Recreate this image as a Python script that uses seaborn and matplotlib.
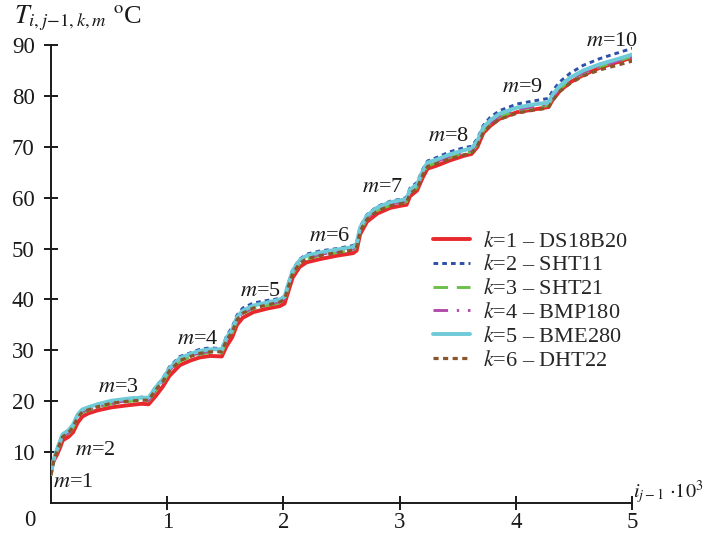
import numpy as np
import pandas as pd
import matplotlib
matplotlib.use("Agg")
import matplotlib.pyplot as plt
import seaborn as sns

# Sample index, in thousands of readings
idx_k = [0.00, 0.02, 0.05, 0.08, 0.10, 0.15, 0.19, 0.23, 0.27, 0.32,
         0.40, 0.52, 0.66, 0.78, 0.84, 0.90, 0.96, 1.02, 1.11, 1.20,
         1.28, 1.37, 1.47, 1.51, 1.56, 1.60, 1.65, 1.74, 1.86, 1.97,
         2.01, 2.04, 2.08, 2.14, 2.20, 2.31, 2.46, 2.60, 2.63, 2.66,
         2.72, 2.81, 2.92, 3.03, 3.06, 3.09, 3.15, 3.20, 3.24, 3.32,
         3.43, 3.55, 3.62, 3.67, 3.72, 3.78, 3.86, 4.01, 4.15, 4.28,
         4.32, 4.38, 4.47, 4.58, 4.72, 4.87, 5.01]

# Temperature readings (deg C) for each sensor
t_ds18b20 = [6.5, 8.2, 9.4, 11.0, 12.3, 13.0, 13.9, 15.8, 17.0, 17.6,
             18.2, 18.8, 19.2, 19.5, 19.4, 21.0, 22.8, 25.0, 27.1, 28.0,
             28.6, 28.9, 28.8, 30.8, 32.6, 35.0, 36.4, 37.5, 38.2, 38.7,
             39.2, 41.4, 44.3, 46.4, 47.3, 47.9, 48.6, 49.1, 49.6, 52.8,
             55.3, 56.9, 58.0, 58.5, 58.6, 60.3, 61.4, 64.0, 65.7, 66.3,
             67.3, 68.2, 68.6, 70.0, 72.7, 74.1, 75.5, 76.8, 77.3, 77.8,
             79.3, 81.0, 82.7, 84.1, 85.5, 86.6, 87.6]
t_sht11 = [5.8, 8.4, 10.5, 12.4, 13.5, 14.1, 15.4, 17.4, 18.3, 18.8,
           19.4, 20.0, 20.5, 20.8, 20.7, 22.8, 24.4, 26.8, 28.8, 29.5,
           30.2, 30.5, 30.3, 32.8, 34.6, 36.9, 38.3, 39.3, 39.8, 40.2,
           40.6, 43.0, 45.9, 47.9, 48.9, 49.5, 50.0, 50.6, 51.2, 54.3,
           56.7, 58.3, 59.3, 59.8, 60.1, 61.9, 63.0, 65.6, 67.2, 67.9,
           69.0, 69.8, 70.1, 71.6, 74.2, 75.8, 77.1, 78.4, 79.0, 79.5,
           81.1, 82.8, 84.5, 86.0, 87.3, 88.4, 89.4]
t_sht21 = [5.3, 7.7, 9.9, 11.7, 12.9, 13.6, 14.8, 16.7, 17.8, 18.2,
           18.8, 19.5, 19.9, 20.3, 20.1, 22.0, 23.6, 25.8, 27.9, 28.7,
           29.2, 29.6, 29.5, 31.8, 33.4, 35.8, 37.2, 38.2, 38.8, 39.3,
           39.9, 42.2, 45.0, 47.1, 47.9, 48.6, 49.2, 49.7, 50.3, 53.4,
           55.9, 57.5, 58.5, 59.0, 59.2, 60.9, 62.0, 64.6, 66.2, 66.9,
           67.9, 68.7, 69.0, 70.5, 73.1, 74.6, 75.9, 77.1, 77.7, 78.1,
           79.7, 81.4, 83.0, 84.4, 85.7, 86.8, 87.8]
t_bmp180 = [5.6, 8.0, 10.1, 11.9, 13.1, 13.8, 15.0, 17.0, 18.0, 18.4,
            19.0, 19.6, 20.1, 20.3, 20.2, 22.3, 23.9, 26.1, 28.1, 28.9,
            29.5, 29.8, 29.8, 32.1, 33.8, 36.2, 37.4, 38.4, 39.0, 39.6,
            40.1, 42.5, 45.4, 47.3, 48.2, 48.8, 49.4, 49.9, 50.7, 53.8,
            56.1, 57.7, 58.7, 59.2, 59.4, 61.2, 62.2, 64.9, 66.5, 67.1,
            68.1, 68.9, 69.3, 70.8, 73.4, 74.8, 76.1, 77.3, 77.9, 78.3,
            79.9, 81.6, 83.2, 84.6, 85.8, 86.8, 87.7]
t_bme280 = [5.9, 8.3, 10.5, 12.3, 13.5, 14.3, 15.4, 17.4, 18.4, 18.8,
            19.4, 20.1, 20.5, 20.7, 20.7, 22.7, 24.3, 26.5, 28.5, 29.3,
            29.9, 30.2, 30.2, 32.5, 34.1, 36.5, 37.8, 38.8, 39.4, 40.0,
            40.5, 42.9, 45.7, 47.7, 48.6, 49.2, 49.8, 50.3, 51.0, 54.1,
            56.5, 58.1, 59.1, 59.6, 59.8, 61.6, 62.6, 65.3, 66.9, 67.5,
            68.5, 69.3, 69.7, 71.2, 73.8, 75.2, 76.5, 77.7, 78.3, 78.7,
            80.3, 82.0, 83.6, 85.0, 86.2, 87.2, 88.2]
t_dht22 = [5.5, 7.9, 10.1, 11.9, 13.0, 13.8, 14.9, 16.9, 17.9, 18.3,
           18.9, 19.6, 20.0, 20.2, 20.2, 22.2, 23.8, 26.0, 28.0, 28.8,
           29.4, 29.7, 29.7, 32.0, 33.6, 36.0, 37.3, 38.3, 38.9, 39.5,
           40.0, 42.3, 45.1, 47.1, 48.0, 48.6, 49.2, 49.7, 50.3, 53.4,
           55.8, 57.4, 58.4, 58.9, 59.1, 60.8, 61.8, 64.5, 66.1, 66.7,
           67.6, 68.4, 68.8, 70.2, 72.8, 74.2, 75.4, 76.6, 77.2, 77.6,
           79.2, 80.9, 82.5, 83.9, 85.1, 86.0, 86.9]

sensor_labels = [r"$k$=1 – DS18B20", r"$k$=2 – SHT11", r"$k$=3 – SHT21",
                 r"$k$=4 – BMP180", r"$k$=5 – BME280", r"$k$=6 – DHT22"]
series = [t_ds18b20, t_sht11, t_sht21, t_bmp180, t_bme280, t_dht22]

# Stage labels m=1..10 and their anchor points (index in thousands, deg C)
stage_names = [f"m={i}" for i in range(1, 11)]
stage_x = [0.19, 0.38, 0.58, 1.26, 1.80, 2.40, 2.85, 3.42, 4.06, 4.83]
stage_y = [4.1, 10.4, 22.6, 32.2, 41.5, 52.3, 61.9, 72.1, 81.7, 90.6]

x_ticks = [1, 2, 3, 4, 5]
y_ticks = [10, 20, 30, 40, 50, 60, 70, 80, 90]

sns.set_style("ticks")
plt.rcParams["font.family"] = ["Liberation Serif", "DejaVu Serif"]
plt.rcParams["mathtext.fontset"] = "stix"

styles = [
    dict(color="#e8282c", linestyle="-", linewidth=2.8),
    dict(color="#2e4fa8", linestyle=(0, (1.6, 1.4)), linewidth=2.1),
    dict(color="#6cc04a", linestyle=(0, (5, 3)), linewidth=2.1),
    dict(color="#b24cab", linestyle=(0, (5, 3, 0.8, 3)), linewidth=2.1),
    dict(color="#6fcad8", linestyle="-", linewidth=2.8),
    dict(color="#8a552a", linestyle=(0, (1.6, 1.4)), linewidth=2.3),
]

frames = []
for lab, vals in zip(sensor_labels, series):
    frames.append(pd.DataFrame({"i": idx_k, "T": vals, "sensor": lab}))
df = pd.concat(frames, ignore_index=True)

fig = plt.figure(figsize=(7.11, 5.34), dpi=100)
ax = fig.add_axes([51 / 711, 31 / 534, 581 / 711, 458 / 534])

for z, (lab, st) in enumerate(zip(sensor_labels, styles)):
    sub = df[df["sensor"] == lab]
    sns.lineplot(data=sub, x="i", y="T", ax=ax, label=lab, sort=False,
                 estimator=None, zorder=2 + z, **st)

ax.set_xlim(0, 5)
ax.set_ylim(0, 90)
ax.set_xticks(x_ticks)
ax.set_yticks(y_ticks)
ax.set_xticklabels([str(v) for v in x_ticks])
ax.set_yticklabels([str(v) for v in y_ticks])
ax.tick_params(direction="inout", length=9.5, width=1.4, labelsize=16.5,
               colors="#1a1a1a")
ax.tick_params(axis="x", pad=2)
ax.tick_params(axis="y", pad=7)
for s in ("left", "bottom"):
    ax.spines[s].set_linewidth(1.4)
    ax.spines[s].set_color("#1a1a1a")
sns.despine(ax=ax)
ax.set_xlabel("")
ax.set_ylabel("")

for name, sx, sy in zip(stage_names, stage_x, stage_y):
    ax.text(sx, sy, f"${name[0]}$={name[2:]}", fontsize=16, ha="center",
            va="center", color="#1a1a1a")

leg = ax.legend(loc="upper left", bbox_to_anchor=(0.657, 0.594), frameon=False,
                fontsize=16, handlelength=1.7, handletextpad=0.55,
                labelspacing=0.15, borderaxespad=0, borderpad=0)

fig.text(14 / 711, 1 - 18 / 534, r"$T_{i,j\!-\!1,k,m}$ $^{\rm o}$C",
         fontsize=19, va="center", ha="left", color="#1a1a1a")
fig.text(633 / 711, 1 - 492 / 534, r"$i_{j-1}$ $\cdot 10^{3}$",
         fontsize=14.5, va="center", ha="left", color="#1a1a1a")
fig.text(30 / 711, 1 - 520 / 534, "0", fontsize=16.5, va="center",
         ha="center", color="#1a1a1a")

fig.savefig("out.png", dpi=100)
